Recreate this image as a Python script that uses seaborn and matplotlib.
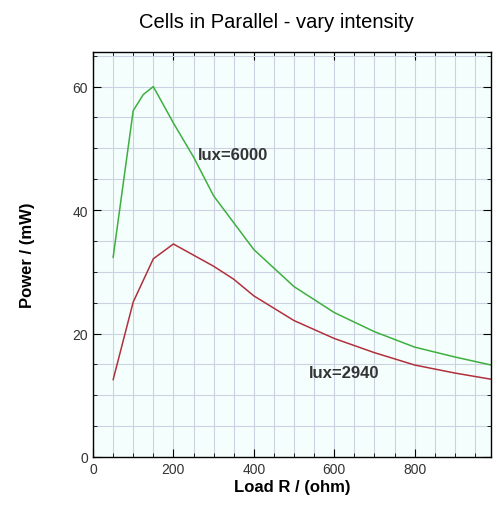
import numpy as np
import pandas as pd
import matplotlib
matplotlib.use("Agg")
import matplotlib.pyplot as plt
import seaborn as sns

# load resistance (ohm) and power (mW)
load_hi = [50, 100, 125, 150, 200, 250, 300, 400, 500, 600, 700, 800, 900, 990]
power_hi = [32.3, 56.1, 58.7, 60.0, 54.1, 48.6, 42.3, 33.6, 27.6, 23.4, 20.3, 17.8, 16.2, 14.9]
load_lo = [50, 100, 150, 200, 300, 350, 400, 500, 600, 700, 800, 900, 990]
power_lo = [12.5, 25.1, 32.1, 34.5, 30.9, 28.8, 26.1, 22.1, 19.2, 16.9, 14.9, 13.6, 12.6]
labels = ["lux=6000", "lux=2940"]

df = pd.concat([
    pd.DataFrame({"load": load_hi, "power": power_hi, "lux": labels[0]}),
    pd.DataFrame({"load": load_lo, "power": power_lo, "lux": labels[1]}),
])

sns.set_style("ticks")
plt.rcParams["font.family"] = ["Liberation Sans", "DejaVu Sans"]

fig = plt.figure(figsize=(4.93, 5.06), dpi=100)
ax = fig.add_axes([93 / 493, 48 / 506, 398 / 493, 405 / 506])
ax.set_facecolor("#f4fffd")

sns.lineplot(data=df, x="load", y="power", hue="lux",
             palette={labels[0]: "#3fae3f", labels[1]: "#b0303c"},
             linewidth=1.1, legend=False, ax=ax, sort=False)

ax.set_xlim(0, 990)
ax.set_ylim(0, 65.6)
ax.set_xticks(np.arange(0, 1000, 200))
ax.set_xticks(np.arange(0, 1000, 50), minor=True)
ax.set_yticks(np.arange(0, 61, 20))
ax.set_yticks(np.arange(0, 66, 5), minor=True)
ax.grid(True, which="both", color="#ccd2e2", linewidth=0.8)
ax.set_axisbelow(True)
ax.tick_params(which="both", direction="in", top=True, right=True,
               labelsize=10, colors="black", labelcolor="#333333")
ax.tick_params(which="major", length=6)
ax.tick_params(which="minor", length=3)
for s in ax.spines.values():
    s.set_color("black")
    s.set_linewidth(1)

ax.text(262, 48.3, labels[0], fontsize=12, fontweight="bold", color="#333333")
ax.text(538, 13.0, labels[1], fontsize=12, fontweight="bold", color="#333333")

ax.set_xlabel("Load R / (ohm)", fontsize=12, fontweight="bold", labelpad=2, color="black")
ax.set_ylabel("Power / (mW)", fontsize=12, fontweight="bold", labelpad=27, color="black")
fig.suptitle("Cells in Parallel - vary intensity", fontsize=14.5, x=0.56, y=0.975, color="black")

fig.savefig("out.png", dpi=100)
